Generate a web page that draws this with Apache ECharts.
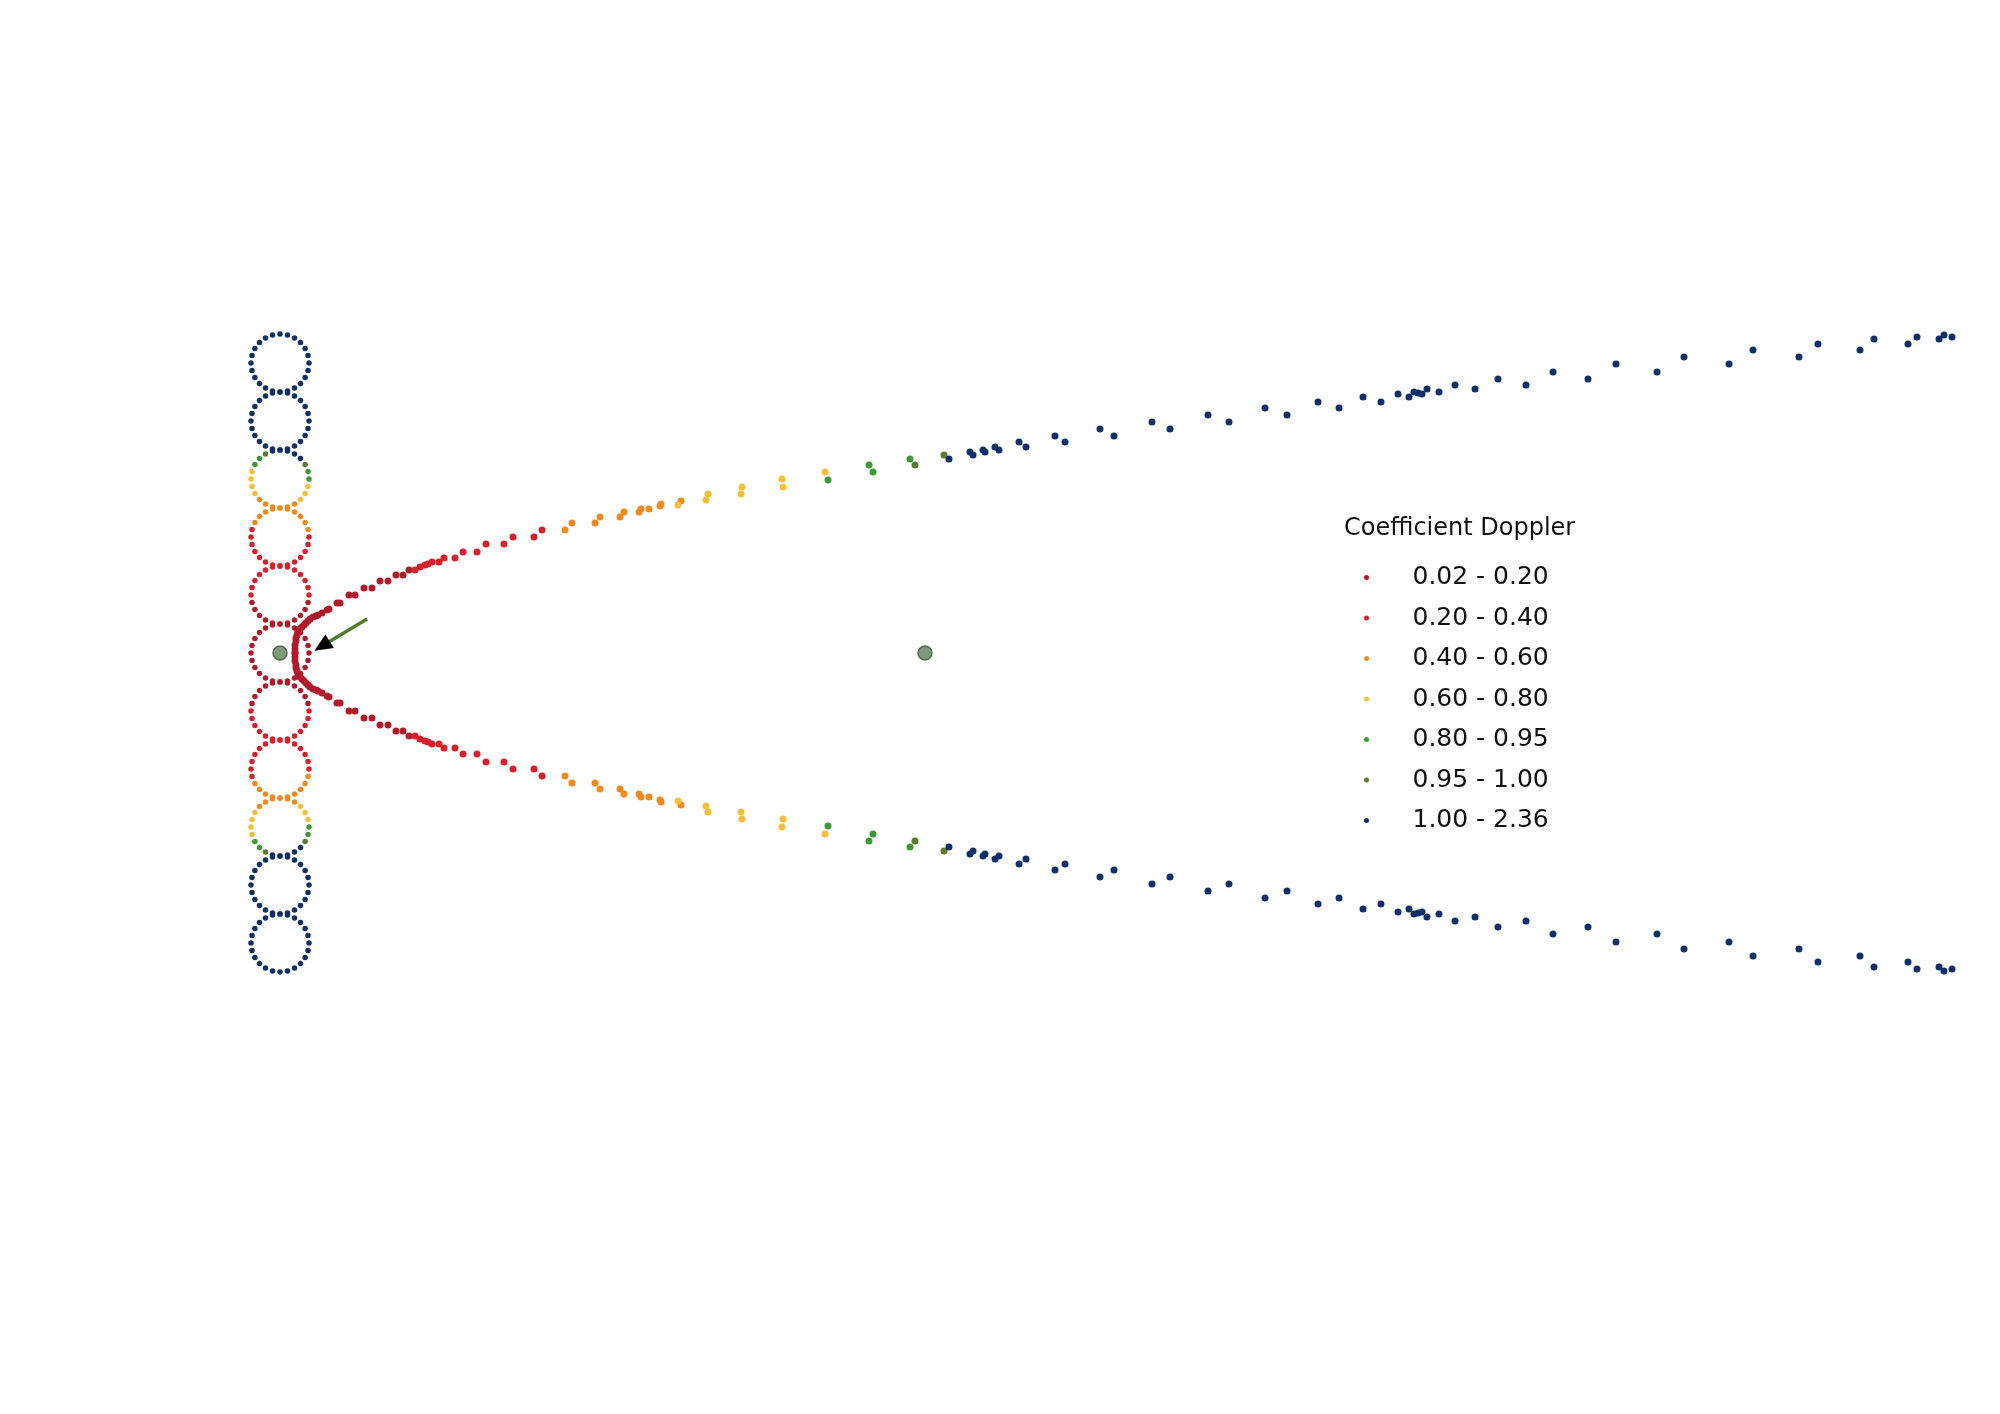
<!DOCTYPE html>
<html>
<head>
<meta charset="utf-8">
<title>Coefficient Doppler</title>
<script src="https://cdn.jsdelivr.net/npm/echarts@6/dist/echarts.min.js"></script>
<style>
  html, body { margin: 0; padding: 0; background: #fff; }
  #chart { width: 2000px; height: 1414px; }
</style>
</head>
<body>
<div id="chart"></div>
<script>
// Doppler coefficient classes, legend order
const classNames = ["0.02 - 0.20", "0.20 - 0.40", "0.40 - 0.60", "0.60 - 0.80", "0.80 - 0.95", "0.95 - 1.00", "1.00 - 2.36"];
const classColors = ["#b01b2b", "#d6202a", "#f08a1f", "#f3bf3a", "#3c9a35", "#5b7a2e", "#0e2f68"];

// upper branch, [x from source, lateral offset]; the lower branch is its mirror
const branchDarkRed = [[15, 0], [15, 4], [15, 8], [16, 12], [16, 15], [17, 18], [18, 21], [20, 24], [22, 26], [24, 28],
  [26, 30], [28, 32], [30, 34], [33, 36], [36, 37], [38, 38], [42, 40], [47, 43], [49, 44], [57, 50], [60, 50],
  [69, 58], [75, 58], [84, 65], [92, 65], [100, 72], [108, 72], [116, 78], [123, 78], [129, 83]];
const branchRed = [[135, 83], [140, 86], [145, 88], [148, 89], [152, 91], [159, 91], [164, 95], [175, 95], [183, 101],
  [197, 101], [206, 109], [224, 109], [233, 116], [254, 116], [262, 123]];
const branchOrange = [[285, 123], [292, 130], [315, 130], [320, 136], [340, 136], [344, 141], [359, 141], [361, 144],
  [369, 144], [380, 147], [381, 149], [401, 152]];
const branchYellow = [[398, 148], [426, 153], [428, 159], [461, 159], [462, 166], [503, 166], [502, 174], [545, 181]];
const branchGreen = [[548, 173], [589, 188], [593, 181], [630, 194]];
const branchOlive = [[635, 188], [664, 198]];
const branchBlue = [[669, 194], [690, 201], [693, 198], [703, 203], [705, 201], [715, 206], [719, 203], [739, 211],
  [746, 206], [775, 217], [785, 211], [820, 224], [834, 217], [872, 231], [890, 224], [928, 238], [949, 231],
  [985, 245], [1007, 238], [1038, 251], [1059, 245], [1083, 256], [1101, 251], [1118, 259], [1129, 256], [1134, 261],
  [1138, 260], [1142, 259], [1147, 264], [1159, 261], [1175, 268], [1195, 264], [1218, 274], [1246, 268], [1273, 281],
  [1308, 274], [1336, 289], [1377, 281], [1404, 296], [1449, 289], [1473, 303], [1519, 296], [1538, 309], [1580, 303],
  [1594, 314], [1628, 309], [1637, 316], [1659, 314], [1664, 318], [1672, 316]];
const branches = [branchDarkRed, branchRed, branchOrange, branchYellow, branchGreen, branchOlive, branchBlue];

// column of receiver rings: centre offsets, and class of each of the 24 dots (clockwise from the top)
const ringCentersY = [290, 232, 174, 116, 58, 0, -58, -116, -174, -232, -290];
const ringRadius = 29;
const ringClasses = [
  "666666666666666666666666",
  "666666666666666666666666",
  "666654433322222233334456",
  "222222111111111111112222",
  "111111100000000000111111",
  "000000000000000000000000",
  "000000111111111111100000",
  "111111122222222221111111",
  "222333445666665443333222",
  "666666666666666666666666",
  "666666666666666666666666"
];

const sources = [[0, 0], [645, 0]];
const arrowLine = [[87, 34], [47, 10]];
const arrowHead = [[42, 7]];

function ringPoints(cls) {
  const pts = [];
  ringCentersY.forEach((cy, i) => {
    const codes = ringClasses[i];
    for (let k = 0; k < codes.length; k++) {
      if (Number(codes[k]) !== cls) continue;
      const a = (k * 2 * Math.PI) / codes.length;
      pts.push([ringRadius * Math.sin(a), cy + ringRadius * Math.cos(a)]);
    }
  });
  return pts;
}

const series = [];
classNames.forEach((name, c) => {
  series.push({
    name,
    type: "scatter",
    symbolSize: 5.5,
    itemStyle: { color: classColors[c], opacity: 1 },
    data: ringPoints(c),
  });
});
classNames.forEach((name, c) => {
  const upper = branches[c];
  const lower = upper.map(([x, y]) => [x, -y]);
  series.push({
    name,
    type: "scatter",
    symbolSize: 7,
    itemStyle: { color: classColors[c], opacity: 1 },
    data: upper.concat(lower),
  });
});
series.push({
  name: "source",
  type: "scatter",
  symbolSize: 14,
  itemStyle: { color: "#5d7f57", borderColor: "#3b5838", borderWidth: 1.5 },
  data: sources,
  z: 5,
});
series.push({
  name: "arrow",
  type: "lines",
  coordinateSystem: "cartesian2d",
  lineStyle: { color: "#4f7d2b", width: 3.5, opacity: 1 },
  data: [{ coords: arrowLine }],
  z: 5,
});
series.push({
  name: "arrowHead",
  type: "scatter",
  symbol: "triangle",
  symbolSize: [16, 18],
  symbolRotate: 122,
  itemStyle: { color: "#000", opacity: 1 },
  data: arrowHead,
  z: 6,
});

const chart = echarts.init(document.getElementById("chart"));
chart.setOption({
  animation: false,
  backgroundColor: "#fff",
  title: {
    text: "Coefficient Doppler",
    left: 1339,
    top: 512,
    textStyle: { fontFamily: "DejaVu Sans", fontSize: 24, fontWeight: "normal", color: "#111" },
  },
  legend: {
    data: classNames,
    orient: "vertical",
    left: 1359,
    top: 560,
    icon: "circle",
    itemWidth: 82,
    itemHeight: 5,
    itemGap: 15.5,
    textStyle: { fontFamily: "DejaVu Sans", fontSize: 25, color: "#111" },
  },
  grid: { left: 0, right: 0, top: 0, bottom: 0 },
  xAxis: { type: "value", min: -280, max: 1720, show: false },
  yAxis: { type: "value", min: -761, max: 653, show: false },
  series,
});
</script>
</body>
</html>
